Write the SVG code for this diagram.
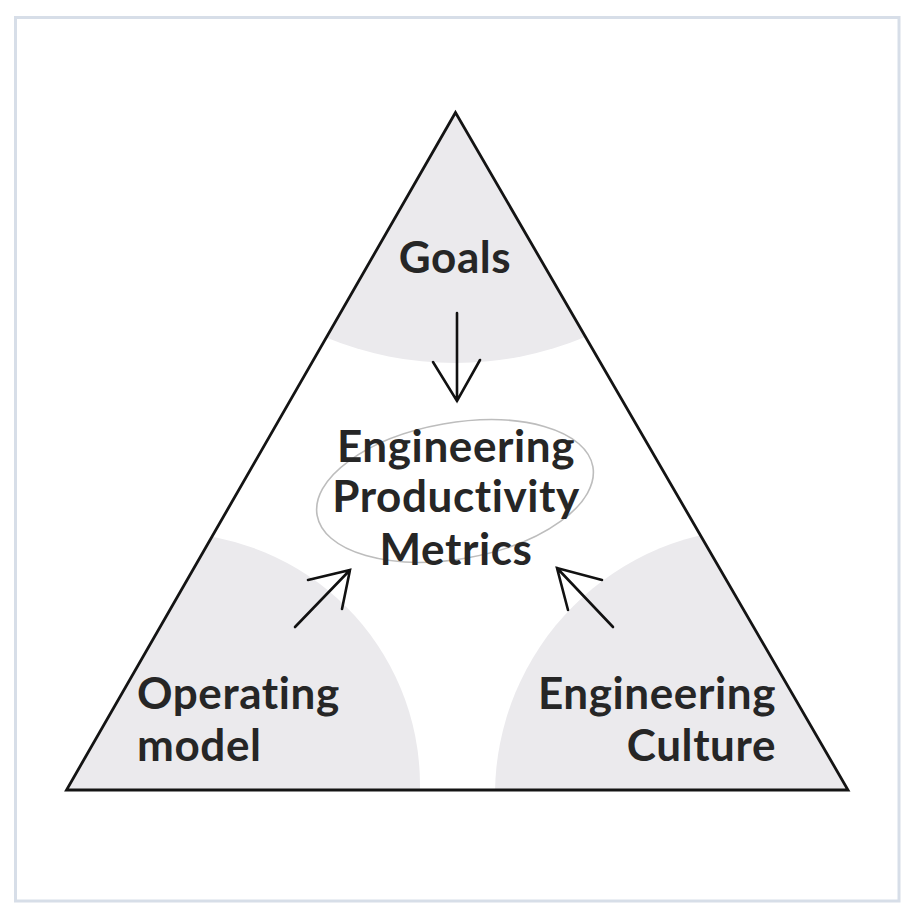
<svg xmlns="http://www.w3.org/2000/svg" width="917" height="918" viewBox="0 0 917 918">
  <style>
    .lbl { font-family: Lato, "Noto Sans", "Liberation Sans", sans-serif; font-weight: 700; font-size: 44px; letter-spacing: 0.6px; font-variant-ligatures: none; fill: #262626; }
    .zone { fill: #ebeaed; }
    .arrow { fill: none; stroke: #111; stroke-width: 2.6; stroke-linecap: round; stroke-linejoin: miter; }
  </style>
  <defs>
    <clipPath id="tri">
      <polygon points="455.5,112.5 66.5,790 848,790"/>
    </clipPath>
  </defs>
  <rect x="0" y="0" width="917" height="918" fill="#ffffff"/>
  <rect id="frame" x="15.5" y="17.5" width="883.5" height="883.5" fill="#ffffff" stroke="#d7dee8" stroke-width="3"/>

  <g id="zones" clip-path="url(#tri)">
    <circle class="zone" cx="455" cy="23" r="340"/>
    <circle class="zone" cx="168" cy="785" r="252"/>
    <circle class="zone" cx="762" cy="795" r="267"/>
  </g>

  <polygon id="triangle" points="455.5,112.5 66.5,790 848,790" fill="none" stroke="#141414" stroke-width="2.8" stroke-linejoin="miter"/>

  <g id="goals">
    <text class="lbl" x="455" y="273" text-anchor="middle">Goals</text>
  </g>

  <g id="metrics">
    <ellipse cx="455" cy="491" rx="140" ry="68" transform="rotate(-10 455 491)" fill="none" stroke="#bdbdbd" stroke-width="1.6"/>
    <text class="lbl" x="456" y="462" text-anchor="middle">Engineering</text>
    <text class="lbl" x="456" y="512" text-anchor="middle">Productivity</text>
    <text class="lbl" x="456" y="565" text-anchor="middle">Metrics</text>
  </g>

  <g id="operating-model">
    <text class="lbl" x="137" y="709">Operating</text>
    <text class="lbl" x="137" y="761">model</text>
  </g>

  <g id="engineering-culture">
    <text class="lbl" x="776" y="709" text-anchor="end">Engineering</text>
    <text class="lbl" x="776" y="761" text-anchor="end">Culture</text>
  </g>

  <g id="connectors">
    <path class="arrow" d="M457,313 L457,401 M433,362 L457,401 L480,360"/>
    <path class="arrow" d="M295,627 L350,570 M308,580 L350,570 L342,609"/>
    <path class="arrow" d="M613,627 L557,568 M602,580 L557,568 L568,610"/>
  </g>
</svg>
